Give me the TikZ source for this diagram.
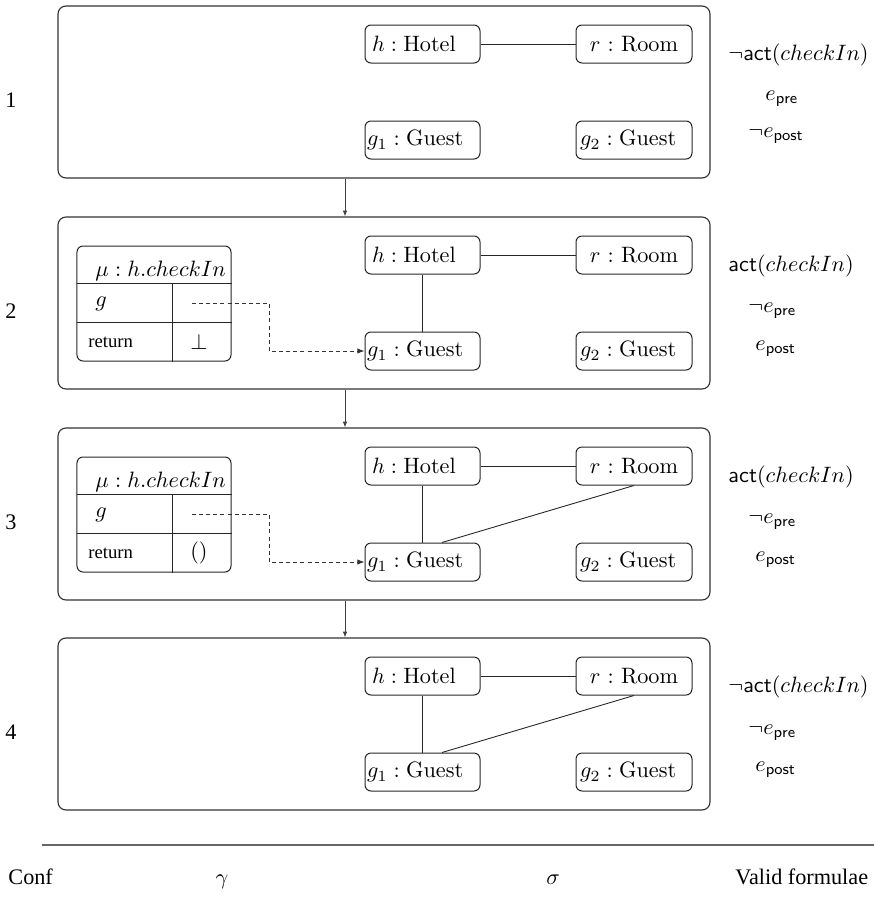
\documentclass[tikz,border=0pt]{standalone}
\usepackage{fontspec}
\newfontfamily\timesfont{Liberation Serif}
\usetikzlibrary{arrows.meta,calc}
\begin{document}
\begin{tikzpicture}[x=0.45pt,y=-0.45pt,
  panel/.style={draw=black!80, line width=0.5pt, rounded corners=3.6pt, minimum width=293.4pt, minimum height=77.4pt, inner sep=0pt},
  objbox/.style={draw=black!85, line width=0.45pt, rounded corners=2.7pt, minimum height=17.1pt, inner ysep=0pt},
  hbox/.style={objbox, inner xsep=3.15pt, text width=45.45pt, align=left},
  rbox/.style={objbox, inner xsep=3.15pt, text width=45.9pt, align=center},
  gonebox/.style={objbox, inner xsep=0.9pt, text width=49.95pt, align=left},
  gtwobox/.style={objbox, inner xsep=1.8pt, text width=48.6pt, align=left},
  meth/.style={draw=black!85, line width=0.45pt, rounded corners=2.7pt, minimum width=69.3pt, minimum height=51.75pt, inner sep=0pt},
  conn/.style={draw=black!85, line width=0.4pt},
  link/.style={draw=black!80, line width=0.4pt, dash pattern=on 1.8pt off 1.4pt, -{Latex[length=3.2pt,width=2.4pt]}},
  flow/.style={draw=black!75, line width=0.4pt, -{Latex[length=2.6pt,width=2pt]}},
  ftxt/.style={anchor=base west, inner sep=0pt},
  tlabel/.style={anchor=base, inner sep=0pt, font=\timesfont\fontsize{10}{12}\selectfont},
]
\useasboundingbox (0,0) rectangle (874,898);

\foreach \i/\T in {1/6,2/217,3/428,4/638}{
  \node[panel] (p\i) at (384,\T+86) {};
  \node[tlabel] (n\i) at (11,\T+101) {\i};
  \node[hbox] (h\i) at (422.5,\T+38) {$h:\mathrm{Hotel}$};
  \node[rbox] (r\i) at (634,\T+38) {$r:\mathrm{Room}$};
  \node[gonebox] (ga\i) at (422.5,\T+134) {$g_1:\mathrm{Guest}$};
  \node[gtwobox] (gb\i) at (634,\T+134) {$g_2:\mathrm{Guest}$};
  \draw[conn] (h\i) -- (r\i);
}

% links
\foreach \i in {2,3,4}{
  \draw[conn] (h\i) -- (ga\i);
}
\foreach \i in {3,4}{
  \draw[conn] (r\i.south) -- ($(ga\i.north)+(19.5,0)$);
}

% method boxes
\foreach \i/\T/\v in {2/217/{$\bot$},3/428/{$()$}}{
  \node[meth] (m\i) at (154,\T+86.5) {};
  \draw[conn] ($(m\i.north west)+(0,38)$) -- ($(m\i.north east)+(0,38)$);
  \draw[conn] ($(m\i.north west)+(0,77)$) -- ($(m\i.north east)+(0,77)$);
  \draw[conn] ($(m\i.north west)+(96,38)$) -- ($(m\i.south west)+(96,0)$);
  \node[ftxt] (mh\i) at (95,\T+59) {$\mu : h.checkIn$};
  \node[anchor=west, inner sep=0pt] (mg\i) at (95,\T+87) {$g$};
  \node[anchor=west, inner sep=0pt, font=\timesfont\fontsize{8.4}{10}\selectfont] (mr\i) at (88,\T+125) {return};
  \node[inner sep=0pt] (mv\i) at (199,\T+125) {\v};
  \coordinate (ds\i) at (192,\T+86);
  \draw[link] (ds\i) -- ++(77,0) |- (ga\i.west);
}

% formulae
\node[ftxt] (fa1) at (728,60) {$\neg\mathsf{act}(checkIn)$};
\node[ftxt] (fb1) at (765,100) {$e_{\mathsf{pre}}$};
\node[ftxt] (fc1) at (748,137) {$\neg e_{\mathsf{post}}$};

\node[ftxt] (fa2) at (728,271) {$\mathsf{act}(checkIn)$};
\node[ftxt] (fb2) at (748,312) {$\neg e_{\mathsf{pre}}$};
\node[ftxt] (fc2) at (755,350) {$e_{\mathsf{post}}$};

\node[ftxt] (fa3) at (728,482) {$\mathsf{act}(checkIn)$};
\node[ftxt] (fb3) at (748,523) {$\neg e_{\mathsf{pre}}$};
\node[ftxt] (fc3) at (755,561) {$e_{\mathsf{post}}$};

\node[ftxt] (fa4) at (728,692) {$\neg\mathsf{act}(checkIn)$};
\node[ftxt] (fb4) at (748,734) {$\neg e_{\mathsf{pre}}$};
\node[ftxt] (fc4) at (755,771) {$e_{\mathsf{post}}$};

% flow arrows
\draw[flow] ([xshift=-17.55pt]p1.south) -- ([xshift=-17.55pt]p2.north);
\draw[flow] ([xshift=-17.55pt]p2.south) -- ([xshift=-17.55pt]p3.north);
\draw[flow] ([xshift=-17.55pt]p3.south) -- ([xshift=-17.55pt]p4.north);

% bottom rule and headings
\coordinate (rl) at (42,845);
\coordinate (rr) at (874,845);
\draw[black!60, line width=0.6pt] (rl) -- (rr);
\node[ftxt, font=\timesfont\fontsize{10}{12}\selectfont] (hconf) at (8,884) {Conf};
\node[anchor=base, inner sep=0pt] (hgam) at (222,884) {$\gamma$};
\node[anchor=base, inner sep=0pt] (hsig) at (553,884) {$\sigma$};
\node[ftxt, font=\timesfont\fontsize{10}{12}\selectfont] (hval) at (735,884) {Valid formulae};
\end{tikzpicture}
\end{document}
